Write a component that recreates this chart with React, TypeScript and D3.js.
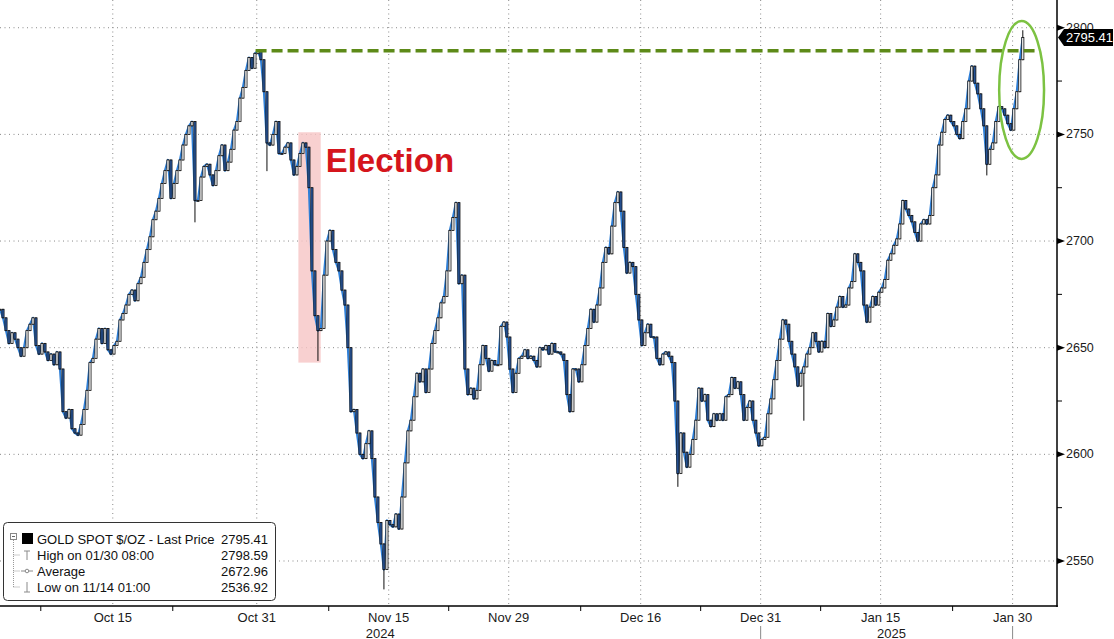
import { useEffect, useRef } from 'react'
import * as d3 from 'd3'

const WIDTH = 1114
const HEIGHT = 639

// x runs in trading days (weekends/holidays removed), 0 = Oct 15 2024
const startDay = -9.4
const stepDays = 0.25

// GOLD SPOT $/OZ closes, one every quarter trading day
const closes: number[] = [
  2668, 2664, 2658, 2652, 2657, 2654, 2650, 2646, 2650, 2658,
  2661, 2664, 2651, 2647, 2652, 2648, 2644, 2647, 2642, 2648,
  2640, 2620, 2617, 2621, 2612, 2610, 2609, 2614, 2621, 2630,
  2643, 2645, 2654, 2659, 2652, 2659, 2649, 2647, 2651, 2653,
  2663, 2666, 2670, 2675, 2677, 2672, 2680, 2683, 2690, 2696,
  2702, 2710, 2714, 2720, 2727, 2733, 2738, 2720, 2727, 2733,
  2738, 2745, 2750, 2754, 2756, 2719, 2719, 2730, 2735, 2736,
  2731, 2726, 2733, 2740, 2745, 2733, 2737, 2743, 2752, 2756,
  2767, 2772, 2780, 2786, 2781, 2788, 2789, 2785, 2770, 2746,
  2745, 2750, 2756, 2741, 2741, 2744, 2746, 2738, 2731, 2735,
  2741, 2746, 2744, 2725, 2686, 2665, 2658, 2659, 2684, 2700,
  2705, 2696, 2690, 2686, 2677, 2670, 2650, 2620, 2621, 2610,
  2600, 2598, 2605, 2611, 2598, 2580, 2568, 2558, 2546, 2569,
  2567, 2566, 2572, 2565, 2580, 2596, 2611, 2616, 2627, 2638,
  2634, 2640, 2629, 2640, 2652, 2658, 2664, 2671, 2674, 2686,
  2705, 2711, 2718, 2680, 2684, 2640, 2628, 2631, 2626, 2630,
  2642, 2651, 2645, 2639, 2644, 2642, 2642, 2660, 2662, 2655,
  2640, 2629, 2638, 2645, 2646, 2649, 2645, 2646, 2644, 2641,
  2650, 2649, 2651, 2647, 2652, 2648, 2648, 2647, 2644, 2628,
  2620, 2640, 2640, 2634, 2642, 2651, 2659, 2668, 2662, 2670,
  2678, 2690, 2697, 2694, 2707, 2718, 2723, 2714, 2697, 2685,
  2690, 2688, 2675, 2663, 2651, 2657, 2661, 2655, 2655, 2645,
  2642, 2647, 2648, 2646, 2643, 2625, 2591, 2610, 2601, 2594,
  2600, 2607, 2616, 2631, 2625, 2628, 2616, 2613, 2619, 2616,
  2619, 2616, 2627, 2628, 2636, 2631, 2634, 2628, 2616, 2622,
  2625, 2616, 2610, 2604, 2607, 2608, 2619, 2626, 2635, 2644,
  2654, 2663, 2661, 2653, 2647, 2641, 2632, 2638, 2641, 2647,
  2650, 2657, 2653, 2648, 2653, 2650, 2666, 2660, 2663, 2669,
  2674, 2669, 2670, 2678, 2681, 2694, 2690, 2686, 2670, 2662,
  2669, 2674, 2670, 2676, 2678, 2682, 2691, 2694, 2698, 2701,
  2708, 2719, 2715, 2712, 2709, 2704, 2700, 2708, 2710, 2708,
  2712, 2725, 2731, 2745, 2751, 2757, 2759, 2756, 2754, 2750,
  2748, 2756, 2762, 2775, 2782, 2774, 2769, 2762, 2754, 2736,
  2743, 2746, 2756, 2763, 2762, 2759, 2755, 2752, 2762, 2770,
  2785, 2795.41,
]

// the few long wicks that stand out
const wickExtremes = [
  { i: 65, low: 2709 },
  { i: 89, low: 2733 },
  { i: 106, low: 2644 },
  { i: 128, low: 2536.92 },
  { i: 226, low: 2585 },
  { i: 268, low: 2616 },
  { i: 329, low: 2731 },
  { i: 341, high: 2798.59 },
]

const dateTicks = [
  { label: 'Oct 15', day: 0 },
  { label: 'Oct 31', day: 12 },
  { label: 'Nov 15', day: 23 },
  { label: 'Nov 29', day: 33 },
  { label: 'Dec 16', day: 44 },
  { label: 'Dec 31', day: 54 },
  { label: 'Jan 15', day: 64 },
  { label: 'Jan 30', day: 75 },
]
const minorDateTicks = [-6, 5, 18, 28, 39, 49, 59, 70]
const yearLabels = [
  { label: '2024', day: 22.3 },
  { label: '2025', day: 64.9 },
]
const yearMarkers = [54, 75]

const priceTicks = [2550, 2600, 2650, 2700, 2750, 2800]
const minorPriceTicks = [2575, 2625, 2675, 2725, 2775]
const lastPrice = 2795.41

const electionBand = { fromDay: 15.47, toDay: 17.33, top: 2751, bottom: 2643 }
const electionLabel = 'Election'
const resistance = { level: 2789.2, fromDay: 11.9, toDay: 76.9 }
const highlight = { day: 75.75, price: 2770.8, halfDays: 1.87, halfPrice: 32.3 }

const legendRows = [
  { label: 'GOLD SPOT $/OZ - Last Price', value: '2795.41', icon: 'square' },
  { label: 'High on 01/30 08:00', value: '2798.59', icon: 'high' },
  { label: 'Average', value: '2672.96', icon: 'avg' },
  { label: 'Low on 11/14 01:00', value: '2536.92', icon: 'low' },
]

const FONT = 'Liberation Sans, Arial, sans-serif'

export default function App() {
  const svgRef = useRef<SVGSVGElement>(null)

  useEffect(() => {
    if (!svgRef.current) return
    const svg = d3.select(svgRef.current)
    svg.selectAll('*').remove()

    const plotRight = 1057
    const plotBottom = 606

    const x = d3.scaleLinear().domain([-9.4, 78.7]).range([0, plotRight])
    const y = d3.scaleLinear().domain([2528.9, 2813]).range([plotBottom, 0])

    const candles = closes.map((c, i) => {
      const o = i === 0 ? c : closes[i - 1]
      const ext = wickExtremes.find(w => w.i === i)
      return {
        day: startDay + i * stepDays,
        open: o,
        close: c,
        high: Math.max(o, c, ext?.high ?? -Infinity),
        low: Math.min(o, c, ext?.low ?? Infinity),
      }
    })

    svg.append('rect').attr('width', WIDTH).attr('height', HEIGHT).attr('fill', '#fff')

    svg.append('defs').append('clipPath').attr('id', 'plot-clip')
      .append('rect').attr('x', 0).attr('y', 0).attr('width', plotRight).attr('height', plotBottom)

    // grid
    const grid = svg.append('g')
    grid.selectAll('line.h').data(priceTicks).join('line')
      .attr('x1', 0).attr('x2', plotRight)
      .attr('y1', d => y(d)).attr('y2', d => y(d))
      .attr('stroke', '#8a8a8a').attr('stroke-width', 1).attr('stroke-dasharray', '1,3.5')
    grid.selectAll('line.v').data(dateTicks).join('line')
      .attr('x1', d => x(d.day)).attr('x2', d => x(d.day))
      .attr('y1', 0).attr('y2', plotBottom)
      .attr('stroke', '#8a8a8a').attr('stroke-width', 1).attr('stroke-dasharray', '1,3.5')

    const plot = svg.append('g').attr('clip-path', 'url(#plot-clip)')

    // election band
    plot.append('rect')
      .attr('x', x(electionBand.fromDay))
      .attr('y', y(electionBand.top))
      .attr('width', x(electionBand.toDay) - x(electionBand.fromDay))
      .attr('height', y(electionBand.bottom) - y(electionBand.top))
      .attr('fill', '#f6c4c4').attr('opacity', 0.8)

    // close line
    const line = d3.line<number>()
      .x((_, i) => x(startDay + i * stepDays))
      .y(d => y(d))
    plot.append('path')
      .datum(closes)
      .attr('d', line)
      .attr('fill', 'none')
      .attr('stroke', '#2f7fd6')
      .attr('stroke-width', 2.2)
      .attr('stroke-linejoin', 'round')

    // candles
    const bw = (x(stepDays) - x(0)) * 0.72
    const cg = plot.append('g')
    cg.selectAll('line').data(candles).join('line')
      .attr('x1', d => x(d.day)).attr('x2', d => x(d.day))
      .attr('y1', d => y(d.high) - 0.5).attr('y2', d => y(d.low) + 0.5)
      .attr('stroke', '#0d0d0d').attr('stroke-width', 1)
    cg.selectAll('rect').data(candles).join('rect')
      .attr('x', d => x(d.day) - bw / 2)
      .attr('width', bw)
      .attr('y', d => y(Math.max(d.open, d.close)))
      .attr('height', d => Math.max(1, Math.abs(y(d.open) - y(d.close))))
      .attr('fill', d => (d.close >= d.open ? '#ffffff' : '#2b5fae'))
      .attr('stroke', '#0d0d0d')
      .attr('stroke-width', 0.8)

    // resistance line
    svg.append('line')
      .attr('x1', x(resistance.fromDay)).attr('x2', x(resistance.toDay))
      .attr('y1', y(resistance.level)).attr('y2', y(resistance.level))
      .attr('stroke', '#5d8a18').attr('stroke-width', 3.5).attr('stroke-dasharray', '11,5')

    // highlight ellipse
    svg.append('ellipse')
      .attr('cx', x(highlight.day)).attr('cy', y(highlight.price))
      .attr('rx', x(highlight.day + highlight.halfDays) - x(highlight.day))
      .attr('ry', y(highlight.price - highlight.halfPrice) - y(highlight.price))
      .attr('fill', 'none').attr('stroke', '#7cc242').attr('stroke-width', 2.5)

    // election label
    svg.append('text')
      .attr('x', x(electionBand.toDay) + 5)
      .attr('y', 171.5)
      .attr('font-family', FONT).attr('font-weight', 700).attr('font-size', 33)
      .attr('fill', '#d5151c')
      .text(electionLabel)

    // axes
    svg.append('line').attr('x1', plotRight).attr('x2', plotRight).attr('y1', 0).attr('y2', plotBottom + 1)
      .attr('stroke', '#000').attr('stroke-width', 1.5)
    svg.append('line').attr('x1', 0).attr('x2', plotRight + 0.75).attr('y1', plotBottom).attr('y2', plotBottom)
      .attr('stroke', '#000').attr('stroke-width', 1.5)

    svg.selectAll('line.minorx').data(minorDateTicks).join('line')
      .attr('x1', d => x(d)).attr('x2', d => x(d))
      .attr('y1', plotBottom).attr('y2', plotBottom + 5)
      .attr('stroke', '#000').attr('stroke-width', 1)
    svg.selectAll('text.datex').data(dateTicks).join('text')
      .attr('x', d => x(d.day)).attr('y', 621.5)
      .attr('text-anchor', 'middle')
      .attr('font-family', FONT).attr('font-size', 13).attr('fill', '#1a1a1a')
      .text(d => d.label)
    svg.selectAll('text.year').data(yearLabels).join('text')
      .attr('x', d => x(d.day)).attr('y', 637.5)
      .attr('text-anchor', 'middle')
      .attr('font-family', FONT).attr('font-size', 13).attr('fill', '#1a1a1a')
      .text(d => d.label)
    svg.selectAll('line.yearmark').data(yearMarkers).join('line')
      .attr('x1', d => x(d)).attr('x2', d => x(d))
      .attr('y1', 626).attr('y2', HEIGHT)
      .attr('stroke', '#8a8a8a').attr('stroke-width', 1)

    svg.selectAll('line.minory').data(minorPriceTicks).join('line')
      .attr('x1', plotRight).attr('x2', plotRight + 5)
      .attr('y1', d => y(d)).attr('y2', d => y(d))
      .attr('stroke', '#000').attr('stroke-width', 1)
    svg.selectAll('path.arrowy').data(priceTicks).join('path')
      .attr('d', d => `M${plotRight},${y(d) - 3}L${plotRight + 8},${y(d)}L${plotRight},${y(d) + 3}Z`)
      .attr('fill', '#000')
    svg.selectAll('text.pricey').data(priceTicks).join('text')
      .attr('x', plotRight + 9).attr('y', d => y(d))
      .attr('dominant-baseline', 'central')
      .attr('font-family', FONT).attr('font-size', 12.5).attr('fill', '#1a1a1a')
      .text(d => d)

    // last price tag
    const ly = y(lastPrice)
    svg.append('path')
      .attr('d', `M${plotRight + 1},${ly}L${plotRight + 7},${ly - 8.5}L${WIDTH - 1},${ly - 8.5}L${WIDTH - 1},${ly + 8.5}L${plotRight + 7},${ly + 8.5}Z`)
      .attr('fill', '#000')
    svg.append('text')
      .attr('x', plotRight + 9).attr('y', ly)
      .attr('dominant-baseline', 'central')
      .attr('font-family', FONT).attr('font-size', 13).attr('fill', '#fff')
      .text(lastPrice.toFixed(2))

    // legend
    const lg = svg.append('g')
    lg.append('rect')
      .attr('x', 3.5).attr('y', 522.5).attr('width', 272).attr('height', 78).attr('rx', 4)
      .attr('fill', '#fff').attr('stroke', '#333').attr('stroke-width', 1)
    const rowY = (k: number) => 544 + 16 * k
    lg.append('line').attr('x1', 13.5).attr('x2', 13.5).attr('y1', 540).attr('y2', rowY(3) - 5)
      .attr('stroke', '#999').attr('stroke-dasharray', '1,1')
    lg.append('rect').attr('x', 10.5).attr('y', 533.5).attr('width', 6).attr('height', 6)
      .attr('fill', '#fff').attr('stroke', '#888')
    lg.append('line').attr('x1', 12).attr('x2', 15).attr('y1', 536.5).attr('y2', 536.5).attr('stroke', '#666')
    legendRows.forEach((r, k) => {
      const by = rowY(k)
      const icon = lg.append('g').attr('stroke', '#8a8a8a').attr('fill', 'none')
      if (k > 0) {
        icon.append('line').attr('x1', 13.5).attr('x2', 20).attr('y1', by - 5).attr('y2', by - 5)
          .attr('stroke-dasharray', '1,1').attr('stroke', '#999')
      }
      if (r.icon === 'square') {
        lg.append('rect').attr('x', 22).attr('y', by - 11).attr('width', 11).attr('height', 11).attr('fill', '#000')
      } else if (r.icon === 'high') {
        icon.append('line').attr('x1', 27).attr('x2', 27).attr('y1', by - 9).attr('y2', by)
        icon.append('line').attr('x1', 24).attr('x2', 30).attr('y1', by - 9).attr('y2', by - 9)
      } else if (r.icon === 'avg') {
        icon.append('line').attr('x1', 21).attr('x2', 33).attr('y1', by - 5).attr('y2', by - 5)
        icon.append('circle').attr('cx', 27).attr('cy', by - 5).attr('r', 1.8).attr('fill', '#fff')
      } else {
        icon.append('line').attr('x1', 27).attr('x2', 27).attr('y1', by - 10).attr('y2', by)
        icon.append('line').attr('x1', 24).attr('x2', 30).attr('y1', by).attr('y2', by)
      }
      lg.append('text').attr('x', 37).attr('y', by)
        .attr('font-family', FONT).attr('font-size', 13).attr('fill', '#111')
        .text(r.label)
      lg.append('text').attr('x', 268).attr('y', by).attr('text-anchor', 'end')
        .attr('font-family', FONT).attr('font-size', 13).attr('fill', '#111')
        .text(r.value)
    })
  }, [])

  return (
    <>
      <style>{'body{margin:0}'}</style>
      <svg ref={svgRef} width={WIDTH} height={HEIGHT} style={{ display: 'block' }} />
    </>
  )
}
